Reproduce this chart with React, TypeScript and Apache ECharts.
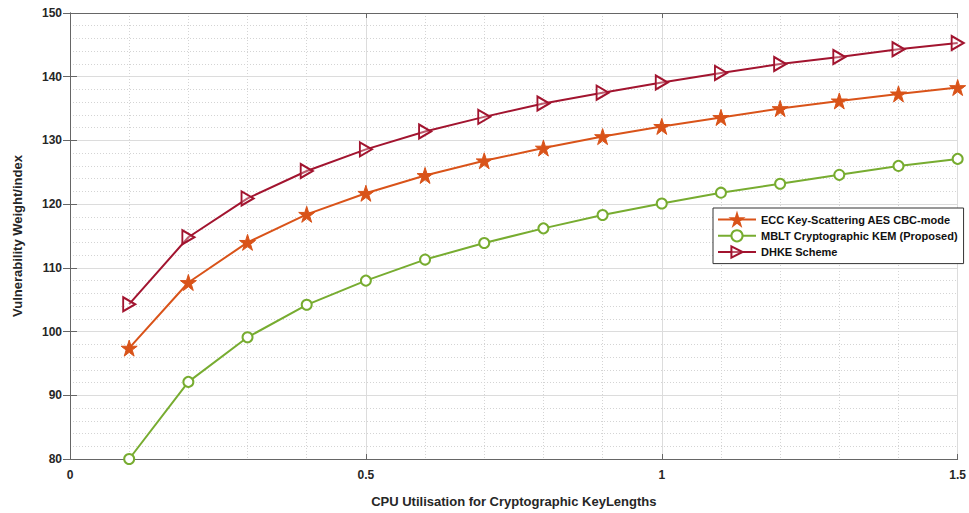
import React, { useEffect, useRef } from "react";
import * as echarts from "echarts";

const xValues = [0.1, 0.2, 0.3, 0.4, 0.5, 0.6, 0.7, 0.8, 0.9, 1.0, 1.1, 1.2, 1.3, 1.4, 1.5];
const eccValues = [97.4, 107.7, 114.0, 118.4, 121.7, 124.5, 126.8, 128.8, 130.6, 132.2, 133.6, 135.0, 136.2, 137.3, 138.3];
const mbltValues = [80.0, 92.1, 99.1, 104.2, 108.0, 111.3, 113.9, 116.2, 118.3, 120.1, 121.8, 123.2, 124.6, 126.0, 127.1];
const dhkeValues = [104.3, 114.8, 120.9, 125.2, 128.6, 131.4, 133.7, 135.8, 137.5, 139.1, 140.6, 142.0, 143.1, 144.3, 145.3];

const seriesNames = [
  "ECC Key-Scattering AES CBC-mode",
  "MBLT Cryptographic KEM (Proposed)",
  "DHKE Scheme",
];
const xTitle = "CPU Utilisation for Cryptographic KeyLengths";
const yTitle = "Vulnerability Weight/index";

const FONT = "'Liberation Sans', Arial, Helvetica, sans-serif";
const STAR = "path://M50,0 L61.2,34.5 L97.6,34.5 L68.2,55.9 L79.4,90.5 L50,69.1 L20.6,90.5 L31.8,55.9 L2.4,34.5 L38.8,34.5 Z";
const TRI_RIGHT = "path://M0,0 L100,50 L0,100 Z";

const pair = (vals: number[]) => xValues.map((x, i) => [x, vals[i]]);

export default function App() {
  const ref = useRef<HTMLDivElement>(null);
  useEffect(() => {
    if (!ref.current) return;
    const chart = echarts.init(ref.current, undefined, { renderer: "svg" });
    const axisLine = { show: true, lineStyle: { color: "#666", width: 1 } };
    const splitLine = { show: true, lineStyle: { color: "#dcdcdc", width: 1 } };
    const minorSplitLine = { show: true, lineStyle: { color: "#d4d4d4", width: 1, type: [1, 2] } };
    const labelStyle = { color: "#262626", fontFamily: FONT, fontWeight: "bold" as const, fontSize: 12 };
    chart.setOption({
      animation: false,
      backgroundColor: "#fff",
      textStyle: { fontFamily: FONT },
      grid: { left: 70, right: 8, top: 13, bottom: 51, containLabel: false },
      legend: {
        orient: "vertical",
        left: 713,
        top: 208,
        width: 239,
        padding: [5, 6, 5, 4],
        itemGap: 3,
        itemWidth: 38,
        itemHeight: 14,
        borderColor: "#333",
        borderWidth: 1,
        backgroundColor: "#fff",
        textStyle: { color: "#111", fontFamily: FONT, fontWeight: "bold", fontSize: 11 },
        data: seriesNames,
      },
      xAxis: [
        {
          type: "value",
          min: 0,
          max: 1.5,
          interval: 0.5,
          name: xTitle,
          nameLocation: "middle",
          nameGap: 36,
          nameTextStyle: { color: "#262626", fontFamily: FONT, fontWeight: "bold", fontSize: 13 },
          axisLine,
          axisTick: { show: true, inside: true, length: 5, lineStyle: { color: "#666" } },
          axisLabel: { ...labelStyle, margin: 10, formatter: (v: number) => String(v) },
          splitLine,
          minorTick: { show: false, splitNumber: 5 },
          minorSplitLine,
        },
        {
          type: "value",
          position: "top",
          min: 0,
          max: 1.5,
          interval: 0.5,
          axisLine,
          axisTick: { show: true, inside: true, length: 5, lineStyle: { color: "#666" } },
          axisLabel: { show: false },
          splitLine: { show: false },
        },
      ],
      yAxis: [
        {
          type: "value",
          min: 80,
          max: 150,
          interval: 10,
          name: yTitle,
          nameLocation: "middle",
          nameGap: 46,
          nameTextStyle: { color: "#262626", fontFamily: FONT, fontWeight: "bold", fontSize: 13 },
          axisLine,
          axisTick: { show: true, inside: true, length: 7, lineStyle: { color: "#666" } },
          axisLabel: { ...labelStyle, margin: 8 },
          splitLine,
          minorTick: { show: false, splitNumber: 5 },
          minorSplitLine,
        },
        {
          type: "value",
          position: "right",
          min: 80,
          max: 150,
          interval: 10,
          axisLine,
          axisTick: { show: true, inside: true, length: 7, lineStyle: { color: "#666" } },
          axisLabel: { show: false },
          splitLine: { show: false },
        },
      ],
      series: [
        {
          name: seriesNames[0],
          type: "line",
          data: pair(eccValues),
          symbol: STAR,
          symbolSize: 16,
          lineStyle: { color: "#D95319", width: 2 },
          itemStyle: { color: "#D95319", borderColor: "#D95319", borderWidth: 1 },
          z: 3,
        },
        {
          name: seriesNames[1],
          type: "line",
          data: pair(mbltValues),
          symbol: "emptyCircle",
          symbolSize: 10,
          lineStyle: { color: "#77AC30", width: 2 },
          itemStyle: { color: "#77AC30", borderColor: "#77AC30", borderWidth: 2 },
          z: 3,
        },
        {
          name: seriesNames[2],
          type: "line",
          data: pair(dhkeValues),
          symbol: TRI_RIGHT,
          symbolSize: [12, 14],
          lineStyle: { color: "#A2142F", width: 2 },
          itemStyle: { color: "rgba(255,255,255,0.3)", borderColor: "#A2142F", borderWidth: 2 },
          z: 3,
        },
      ],
    });
    return () => chart.dispose();
  }, []);
  return <div ref={ref} style={{ width: 969, height: 513, position: "absolute", left: 0, top: 0 }} />;
}
